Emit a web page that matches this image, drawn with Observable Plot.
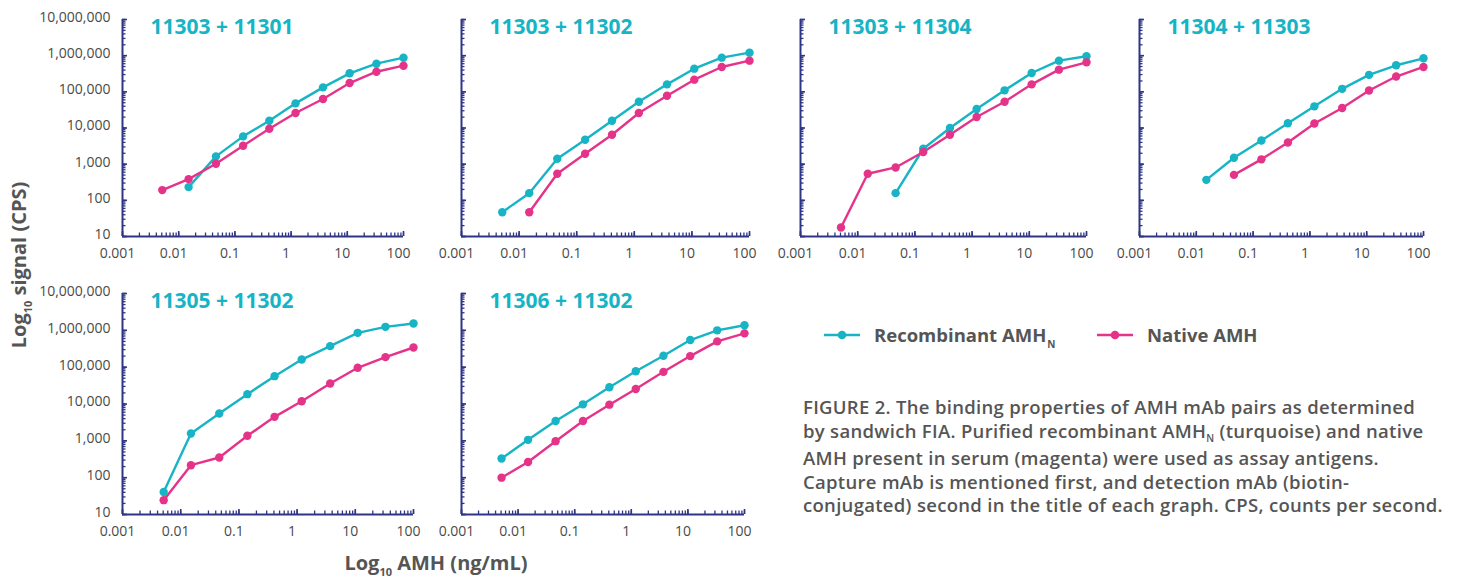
<!DOCTYPE html>
<html>
<head>
<meta charset="utf-8">
<script src="https://cdn.jsdelivr.net/npm/d3@7"></script>
<script src="https://cdn.jsdelivr.net/npm/@observablehq/plot@0.6"></script>
<style>
  html, body { margin: 0; padding: 0; background: #fff; }
  #wrap { position: relative; width: 1457px; height: 579px; overflow: hidden; font-family: "Open Sans", sans-serif; }
  .panel { position: absolute; }
  .ttl { position: absolute; font-weight: 700; color: #555; font-size: 20px; white-space: nowrap; }
  .ttl sub { font-size: 11px; vertical-align: baseline; position: relative; top: 6px; }
  #ytitle { left: 18px; top: 265px; transform: translate(-50%, -50%) rotate(-90deg); }
  #xtitle { left: 436px; top: 562px; transform: translate(-50%, -50%); }
  .leg { position: absolute; display: flex; align-items: center; font-weight: 700; font-size: 18.5px; color: #555; white-space: nowrap; }
  .leg sub { font-size: 10px; vertical-align: baseline; position: relative; top: 6px; margin-left: 1px; }
  #caption { position: absolute; left: 803px; top: 395px; font-weight: 600; font-size: 18.5px; letter-spacing: 0.3px; line-height: 23.5px; color: #555; white-space: nowrap; }
  #caption sub { font-size: 10px; vertical-align: baseline; position: relative; top: 4px; }
</style>
</head>
<body>
<div id="wrap"></div>
<script>
// ---------- data ----------
const conc = [0.0051, 0.015, 0.046, 0.14, 0.41, 1.2, 3.7, 11, 33, 100];
const titles = ["11303 + 11301", "11303 + 11302", "11303 + 11304", "11304 + 11303", "11305 + 11302", "11306 + 11302"];
const recombinant = [
  [null, 232, 1640, 5860, 15900, 48000, 133000, 325000, 600000, 880000],
  [47, 158, 1410, 4730, 15900, 53300, 161000, 437000, 880000, 1210000],
  [null, null, 158, 2670, 9960, 33400, 110000, 332000, 727000, 960000],
  [null, 368, 1510, 4530, 13500, 39700, 121000, 294000, 542000, 845000],
  [41, 1580, 5520, 18500, 57000, 161000, 372000, 855000, 1245000, 1530000],
  [330, 1065, 3440, 9790, 28500, 77800, 204000, 545000, 1000000, 1370000]
];
const native = [
  [192, 386, 1030, 3230, 9550, 25900, 63500, 175000, 360000, 528000],
  [null, 47, 542, 1940, 6510, 25900, 78200, 217000, 486000, 727000],
  [17.7, 542, 812, 2160, 6510, 20100, 53300, 161000, 410000, 654000],
  [null, null, 505, 1360, 3990, 13300, 35700, 109000, 265000, 488000],
  [24.5, 218, 353, 1370, 4480, 11900, 36000, 96000, 187000, 342000],
  [100, 267, 979, 3440, 9590, 25600, 74600, 200000, 501000, 828000]
];
const xTickLabels = [0.001, 0.01, 0.1, 1, 10, 100];
const yTickLabels = [10, 100, 1000, 10000, 100000, 1000000, 10000000];
const seriesNames = ["Recombinant AMH", "Native AMH"];

// ---------- style / layout ----------
const CYAN = "#16b4c5", MAGENTA = "#e5338a", NAVY = "#2e3586";
const frames = [
  {x0: 122, x1: 403, y0: 19, y1: 236, labels: true},
  {x0: 461, x1: 749, y0: 19, y1: 236, labels: false},
  {x0: 800, x1: 1086, y0: 19, y1: 236, labels: false},
  {x0: 1139, x1: 1423, y0: 19, y1: 236, labels: false},
  {x0: 122, x1: 413, y0: 293, y1: 514, labels: true},
  {x0: 461, x1: 744, y0: 293, y1: 514, labels: false}
];
const xDomain = [0.001, 100], yDomain = [10, 1e7];
const xMinor = d3.scaleLog().domain(xDomain).ticks();
const yMinor = d3.scaleLog().domain(yDomain).ticks();

const wrap = document.getElementById("wrap");

frames.forEach((f, i) => {
  const ml = 112, mr = 14, mt = 19, mb = 36;
  const rows = [];
  conc.forEach((c, k) => {
    if (recombinant[i][k] != null) rows.push({x: c, y: recombinant[i][k], s: seriesNames[0]});
  });
  conc.forEach((c, k) => {
    if (native[i][k] != null) rows.push({x: c, y: native[i][k], s: seriesNames[1]});
  });
  const marks = [
    Plot.ruleX([xDomain[0]], {stroke: NAVY, strokeWidth: 2}),
    Plot.ruleY([yDomain[0]], {stroke: NAVY, strokeWidth: 2}),
    Plot.axisX({ticks: xMinor, tickSize: -3.5, text: null, label: null, stroke: NAVY, strokeWidth: 1.3}),
    Plot.axisX({ticks: xTickLabels, tickSize: -5, text: null, label: null, stroke: NAVY, strokeWidth: 1.6}),
    Plot.axisX({ticks: xTickLabels, tickSize: 0, tickPadding: 12, dx: -5, label: null, tickFormat: d => String(d), fill: "#4a4a4a"}),
    Plot.axisY({ticks: yMinor, tickSize: -3.5, text: null, label: null, stroke: NAVY, strokeWidth: 1.3}),
    Plot.axisY({ticks: yTickLabels, tickSize: -5, text: null, label: null, stroke: NAVY, strokeWidth: 1.6}),
    Plot.line(rows, {x: "x", y: "y", z: "s", stroke: "s", strokeWidth: 2.4}),
    Plot.dot(rows, {x: "x", y: "y", fill: "s", r: 4.2}),
    Plot.text([titles[i]], {frameAnchor: "top-left", dx: 28, dy: 8, lineAnchor: "middle", textAnchor: "start", fill: CYAN, fontSize: 21, fontWeight: 700})
  ];
  if (f.labels) {
    marks.push(Plot.axisY({ticks: yTickLabels, tickSize: 0, tickPadding: 12, dy: -2, label: null, tickFormat: d3.format(","), fill: "#4a4a4a"}));
  }
  const w = f.x1 - f.x0, h = f.y1 - f.y0;
  const chart = Plot.plot({
    width: ml + w + mr,
    height: mt + h + mb,
    marginLeft: ml, marginRight: mr, marginTop: mt, marginBottom: mb,
    style: {fontFamily: "Open Sans, sans-serif", fontSize: "14px", background: "transparent", overflow: "visible"},
    x: {type: "log", domain: xDomain, axis: null},
    y: {type: "log", domain: yDomain, axis: null},
    color: {domain: seriesNames, range: [CYAN, MAGENTA]},
    marks
  });
  chart.classList.add("panel");
  chart.style.left = (f.x0 - ml) + "px";
  chart.style.top = (f.y0 - mt) + "px";
  wrap.appendChild(chart);
});

// axis titles
const yt = document.createElement("div");
yt.className = "ttl"; yt.id = "ytitle";
yt.innerHTML = "Log<sub>10</sub> signal (CPS)";
wrap.appendChild(yt);
const xt = document.createElement("div");
xt.className = "ttl"; xt.id = "xtitle";
xt.innerHTML = "Log<sub>10</sub> AMH (ng/mL)";
wrap.appendChild(xt);

// legend
function swatch(color) {
  return `<svg width="36" height="12" style="margin-right:14px"><line x1="0" y1="6" x2="36" y2="6" stroke="${color}" stroke-width="2.6"/><circle cx="18" cy="6" r="4.3" fill="${color}"/></svg>`;
}
const leg1 = document.createElement("div");
leg1.className = "leg";
leg1.style.left = "824px"; leg1.style.top = "322px";
leg1.innerHTML = swatch(CYAN) + `<span>${seriesNames[0]}<sub>N</sub></span>`;
wrap.appendChild(leg1);
const leg2 = document.createElement("div");
leg2.className = "leg";
leg2.style.left = "1097px"; leg2.style.top = "322px";
leg2.innerHTML = swatch(MAGENTA) + `<span>${seriesNames[1]}</span>`;
wrap.appendChild(leg2);

// caption
const cap = document.createElement("div");
cap.id = "caption";
cap.innerHTML = "FIGURE 2. The binding properties of AMH mAb pairs as determined<br>" +
  "by sandwich FIA. Purified recombinant AMH<sub>N</sub> (turquoise) and native<br>" +
  "AMH present in serum (magenta) were used as assay antigens.<br>" +
  "Capture mAb is mentioned first, and detection mAb (biotin-<br>" +
  "conjugated) second in the title of each graph. CPS, counts per second.";
wrap.appendChild(cap);
</script>
</body>
</html>
